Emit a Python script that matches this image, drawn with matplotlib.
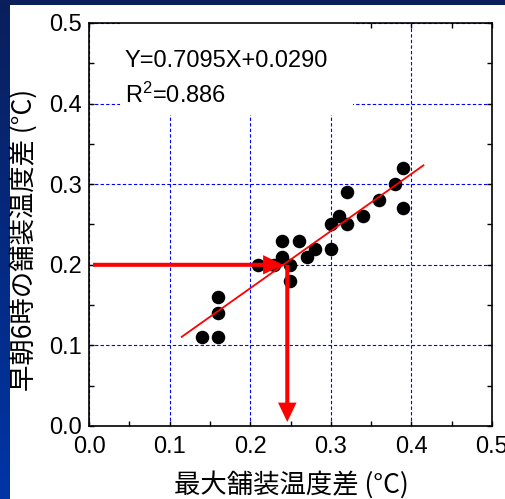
import numpy as np
import matplotlib
matplotlib.use("Agg")
import matplotlib.pyplot as plt
from matplotlib.patches import Rectangle
from matplotlib.ticker import MultipleLocator
from matplotlib.colors import LinearSegmentedColormap

plt.rcParams['font.family'] = ['Liberation Sans', 'Noto Sans CJK JP', 'DejaVu Sans']
plt.rcParams['mathtext.fontset'] = 'custom'
plt.rcParams['mathtext.rm'] = 'Liberation Sans'
plt.rcParams['mathtext.it'] = 'Liberation Sans:italic'

# ---- data ----
max_diff = [0.14, 0.16, 0.16, 0.16, 0.21, 0.23, 0.24, 0.24, 0.25, 0.25, 0.26, 0.27,
            0.28, 0.30, 0.30, 0.31, 0.32, 0.32, 0.34, 0.36, 0.38, 0.39, 0.39]
morning_diff = [0.11, 0.11, 0.14, 0.16, 0.20, 0.20, 0.23, 0.21, 0.20, 0.18, 0.23, 0.21,
                0.22, 0.22, 0.25, 0.26, 0.25, 0.29, 0.26, 0.28, 0.30, 0.32, 0.27]
slope = 0.7095
intercept = 0.0290
r2 = 0.886
fit_range = [0.115, 0.415]
arrow_y = 0.20          # morning difference threshold
arrow_x = 0.246         # corresponding max difference
xticks = [0.0, 0.1, 0.2, 0.3, 0.4, 0.5]
yticks = [0.0, 0.1, 0.2, 0.3, 0.4, 0.5]
xlabel = "最大舗装温度差 (°C)"
ylabel = "早朝6時の舗装温度差 (°C)"

W, H = 506, 499
fig = plt.figure(figsize=(W / 100, H / 100), dpi=100)
fig.patch.set_facecolor('white')

# decorative blue bands (slide background)
band_left = fig.add_axes([0, 0, 10 / W, 1])
grad = np.linspace(0, 1, 256).reshape(-1, 1)
cmap = LinearSegmentedColormap.from_list('b', ['#0a1f5c', '#0035a6'])
band_left.imshow(grad, aspect='auto', cmap=cmap, extent=[0, 1, 0, 1], origin='upper')
band_left.axis('off')
band_top = fig.add_axes([0, 1 - 5 / H, 1, 5 / H])
band_top.set_facecolor('#0a1f5c')
band_top.set_xticks([]); band_top.set_yticks([])
for s in band_top.spines.values():
    s.set_visible(False)

ax = fig.add_axes([89 / W, 1 - 426 / H, 403 / W, 403 / H])
ax.set_xlim(0, 0.5)
ax.set_ylim(0, 0.5)
ax.set_xticks(xticks)
ax.set_yticks(yticks)
ax.set_xticklabels([f"{v:.1f}" for v in xticks])
ax.set_yticklabels([f"{v:.1f}" for v in yticks])
ax.xaxis.set_minor_locator(MultipleLocator(0.05))
ax.yaxis.set_minor_locator(MultipleLocator(0.05))
ax.tick_params(which='both', direction='in', top=True, right=True, length=3.5,
               width=1.0, colors='black')
ax.tick_params(axis='x', which='major', labelsize=17, pad=7)
ax.tick_params(axis='y', which='major', labelsize=17, pad=5)
for s in ax.spines.values():
    s.set_linewidth(1.2)
ax.grid(True, which='major', color='#0000ff', linestyle=(0, (3, 2)), linewidth=0.8)
ax.set_axisbelow(True)

# white box behind the equation text (covers grid)
ax.add_patch(Rectangle((0.077, 0.772), 0.578, 0.228, transform=ax.transAxes,
                       facecolor='white', edgecolor='none', zorder=1.5))

ax.scatter(max_diff, morning_diff, s=95, color='black', zorder=3, linewidths=0)

xf = np.array(fit_range)
ax.plot(xf, slope * xf + intercept, color='#ff0000', lw=1.3, zorder=4)

ax.text(0.089, 0.906, f"Y={slope:.4f}X+{intercept:.4f}", transform=ax.transAxes,
        fontsize=17, va='center', ha='left', zorder=5)
ax.text(0.089, 0.821, r"R$^{\mathrm{2}}$" + f"={r2:.3f}", transform=ax.transAxes,
        fontsize=17, va='center', ha='left', zorder=5)

# arrows
ax.arrow(0.005, arrow_y, (arrow_x - 0.005) - 0.005, 0, width=0.005, head_width=0.024,
         head_length=0.025, length_includes_head=True, color='#ff0000', lw=0, zorder=5)
ax.arrow(arrow_x, arrow_y, 0, -(arrow_y - 0.005), width=0.005, head_width=0.023,
         head_length=0.024, length_includes_head=True, color='#ff0000', lw=0, zorder=5)

fig.text(291 / W, 1 - 485 / H, xlabel, ha='center', va='center', fontsize=19,
         family=['Noto Sans CJK JP', 'Liberation Sans'])
fig.text(24 / W, 1 - 240 / H, ylabel, ha='center', va='center', fontsize=19,
         rotation=90, family=['Noto Sans CJK JP', 'Liberation Sans'])

fig.savefig('out.png', dpi=100)
